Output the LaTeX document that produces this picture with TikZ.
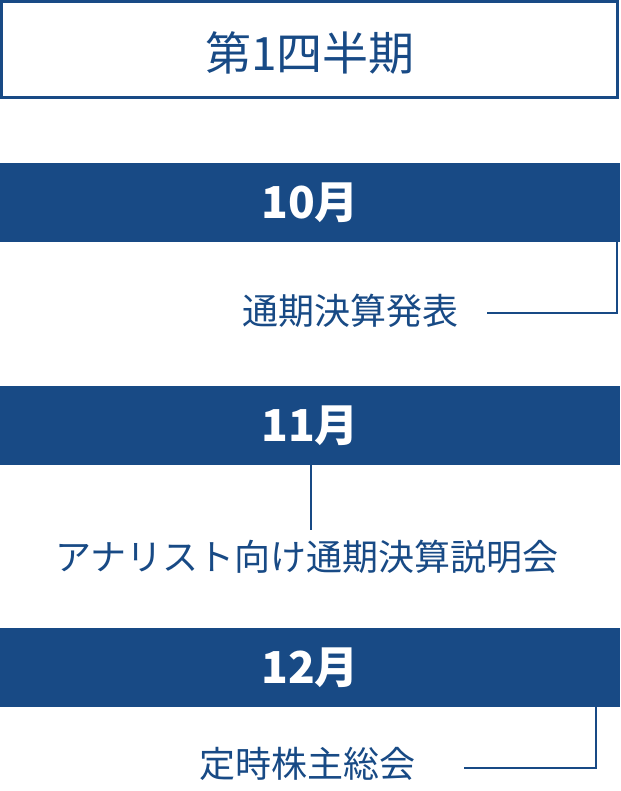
\documentclass[tikz,border=0pt]{standalone}
\usepackage{fontspec}
\newfontfamily\jpfont{Noto Sans CJK JP}
\usetikzlibrary{positioning}

\definecolor{navy}{RGB}{24,74,133}

\tikzset{
  monthbar/.style={fill=navy,text=white,minimum width=620pt,minimum height=79pt,
    inner sep=0pt,font=\jpfont\bfseries\fontsize{44}{48}\selectfont},
  eventtext/.style={text=navy,inner sep=0pt,font=\jpfont\fontsize{36}{40}\selectfont},
  link/.style={draw=navy,line width=2pt}
}

\begin{document}
\begin{tikzpicture}[x=1pt,y=-1pt]
  \useasboundingbox (0,0) rectangle (620,791);
  % Quarter heading
  \node[draw=navy,line width=2.5pt,minimum width=616pt,minimum height=96pt] (quarter) at (309.5,49.5) {};
  \node[text=navy,inner sep=0pt,font=\jpfont\fontsize{46}{50}\selectfont] (quartertext) at (310,53) {第1四半期};
  % Months
  \node[monthbar] (oct) at (310,202.5) {10月};
  \node[monthbar] (nov) at (310,425.5) {11月};
  \node[monthbar] (dec) at (310,667.5) {12月};
  % Events
  \node[eventtext] (results) at (350,311) {通期決算発表};
  \node[eventtext] (briefing) at (307,557) {アナリスト向け通期決算説明会};
  \node[eventtext] (agm) at (307,764) {定時株主総会};
  % Connectors
  \coordinate (octend) at (487,313);
  \coordinate (decend) at (464,768);
  \draw[link] ([xshift=-3pt]oct.south east) |- (octend);
  \draw[link] (nov.south -| 311,0) -- (311,530);
  \draw[link] (dec.south -| 596,0) |- (decend);
\end{tikzpicture}
\end{document}
